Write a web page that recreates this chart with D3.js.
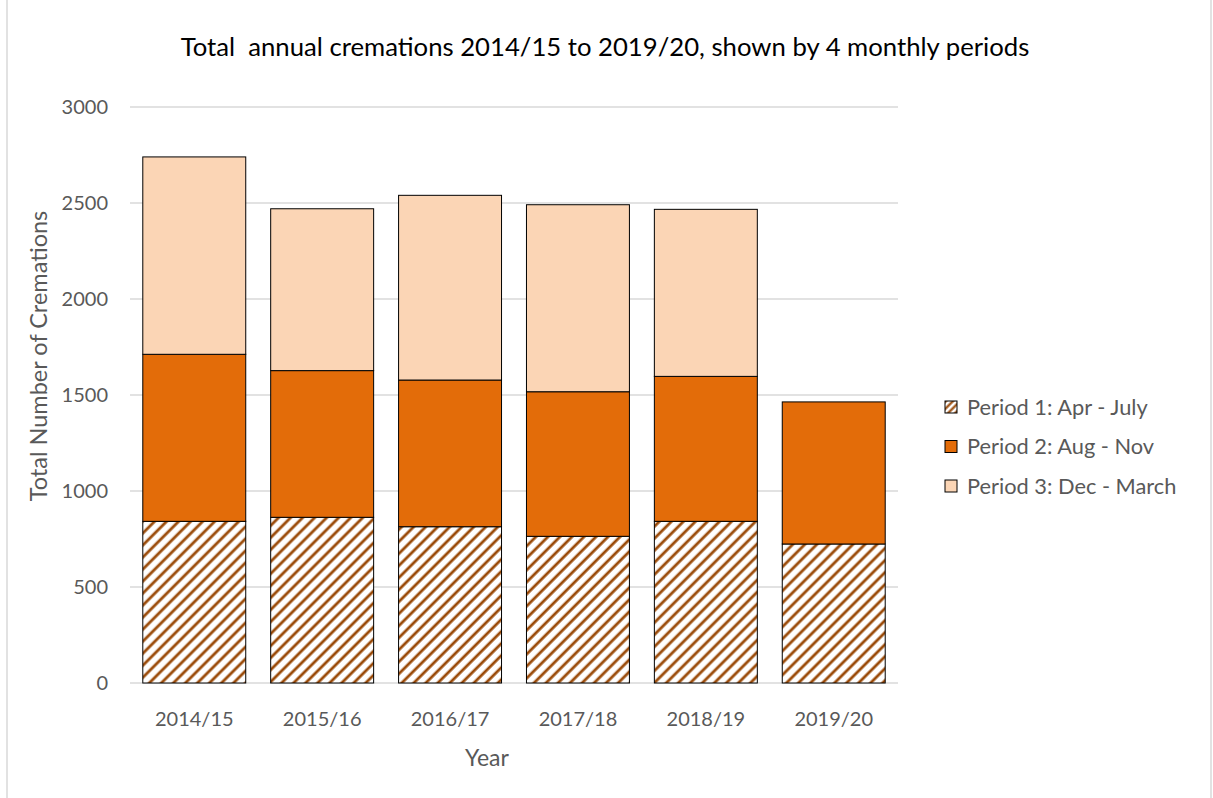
<!DOCTYPE html>
<html>
<head>
<meta charset="utf-8">
<script src="https://cdn.jsdelivr.net/npm/d3@7"></script>
<style>
  body { margin: 0; background: #fff; }
  text { font-family: Lato, "Open Sans", sans-serif; fill: #595959; }
</style>
</head>
<body>
<div id="chart"></div>
<script>
const years = ['2014/15', '2015/16', '2016/17', '2017/18', '2018/19', '2019/20']
const period1 = [842, 863, 814, 764, 842, 724]
const period2 = [870, 764, 764, 753, 755, 740]
const period3 = [1028, 843, 962, 974, 870, 0]
const seriesNames = ['Period 1: Apr - July', 'Period 2: Aug - Nov', 'Period 3: Dec - March']
const yTicks = [0, 500, 1000, 1500, 2000, 2500, 3000]

const width = 1213, height = 798
const svg = d3.select('#chart').append('svg')
    .attr('width', width)
    .attr('height', height)

// hatch for period 1
const defs = svg.append('defs')
const pat = defs.append('pattern')
    .attr('id', 'hatch')
    .attr('patternUnits', 'userSpaceOnUse')
    .attr('width', 8.5)
    .attr('height', 8.5)
    .attr('patternTransform', 'rotate(45)')
pat.append('rect').attr('width', 8.5).attr('height', 8.5).attr('fill', '#fff')
pat.append('line')
    .attr('x1', 2).attr('y1', 0).attr('x2', 2).attr('y2', 8.5)
    .attr('stroke', '#9a4a08').attr('stroke-width', 2.8)

// smaller hatch for legend key
const patL = defs.append('pattern')
    .attr('id', 'hatchL')
    .attr('patternUnits', 'userSpaceOnUse')
    .attr('width', 5)
    .attr('height', 5)
    .attr('patternTransform', 'rotate(45)')
patL.append('rect').attr('width', 5).attr('height', 5).attr('fill', '#fff')
patL.append('line')
    .attr('x1', 1.5).attr('y1', 0).attr('x2', 1.5).attr('y2', 5)
    .attr('stroke', '#9a4a08').attr('stroke-width', 2.2)

const colors = ['url(#hatch)', '#e36c09', '#fbd5b5']
const keyColors = ['url(#hatchL)', '#e36c09', '#fbd5b5']

// outer frame
svg.append('rect')
    .attr('x', 7).attr('y', -2)
    .attr('width', 1204).attr('height', height + 4)
    .attr('fill', 'none')
    .attr('stroke', '#d9d9d9')
    .attr('stroke-width', 1.5)

const x = d3.scaleBand()
    .domain(years)
    .range([130, 898])
    .paddingInner(0.195)
    .paddingOuter(0.1)

const y = d3.scaleLinear()
    .domain([0, 3000])
    .range([683, 107])

// gridlines
svg.append('g')
    .selectAll('line')
    .data(yTicks)
    .join('line')
    .attr('x1', 130).attr('x2', 898)
    .attr('y1', d => y(d)).attr('y2', d => y(d))
    .attr('stroke', '#d9d9d9')
    .attr('stroke-width', 1.5)

// y labels
const yAxis = d3.axisLeft(y).tickValues(yTicks).tickSize(0).tickPadding(0).tickFormat(d3.format('d'))
svg.append('g')
    .attr('transform', 'translate(108,0)')
    .call(yAxis)
    .call(g => g.select('.domain').remove())
    .selectAll('text')
    .style('font-size', '20px')
    .attr('fill', '#595959')

// x labels
const xAxis = d3.axisBottom(x).tickSize(0).tickPadding(0)
svg.append('g')
    .attr('transform', 'translate(0,712)')
    .call(xAxis)
    .call(g => g.select('.domain').remove())
    .selectAll('text')
    .style('font-size', '20px')
    .attr('fill', '#595959')

// stacked bars
const rows = years.map((yr, i) => ({ year: yr, p1: period1[i], p2: period2[i], p3: period3[i] }))
const stack = d3.stack().keys(['p1', 'p2', 'p3'])(rows)

svg.append('g')
    .selectAll('g')
    .data(stack)
    .join('g')
    .attr('fill', (d, i) => colors[i])
    .selectAll('rect')
    .data(d => d.filter(s => s[1] - s[0] > 0))
    .join('rect')
    .attr('x', d => x(d.data.year))
    .attr('width', x.bandwidth())
    .attr('y', d => y(d[1]))
    .attr('height', d => y(d[0]) - y(d[1]))
    .attr('stroke', '#000')
    .attr('stroke-width', 1)

// title
svg.append('text')
    .text('Total  annual cremations 2014/15 to 2019/20, shown by 4 monthly periods')
    .attr('x', 605)
    .attr('y', 56)
    .attr('text-anchor', 'middle')
    .style('white-space', 'pre')
    .style('font-size', '25.7px')
    .style('fill', '#000')

// axis titles
svg.append('text')
    .text('Year')
    .attr('x', 487)
    .attr('y', 766)
    .attr('text-anchor', 'middle')
    .style('font-size', '23px')

svg.append('text')
    .text('Total Number of Cremations')
    .attr('transform', 'translate(47,356) rotate(-90)')
    .attr('text-anchor', 'middle')
    .style('font-size', '23.5px')

// legend
const legend = svg.append('g')
    .selectAll('g')
    .data(seriesNames)
    .join('g')
    .attr('transform', (d, i) => `translate(945,${407 + i * 39.5})`)

legend.append('rect')
    .attr('y', -6)
    .attr('width', 12).attr('height', 12)
    .attr('fill', (d, i) => keyColors[i])
    .attr('stroke', '#000')
    .attr('stroke-width', 1)

legend.append('text')
    .text(d => d)
    .attr('x', 22)
    .attr('y', 7.5)
    .style('font-size', '21.8px')
</script>
</body>
</html>
